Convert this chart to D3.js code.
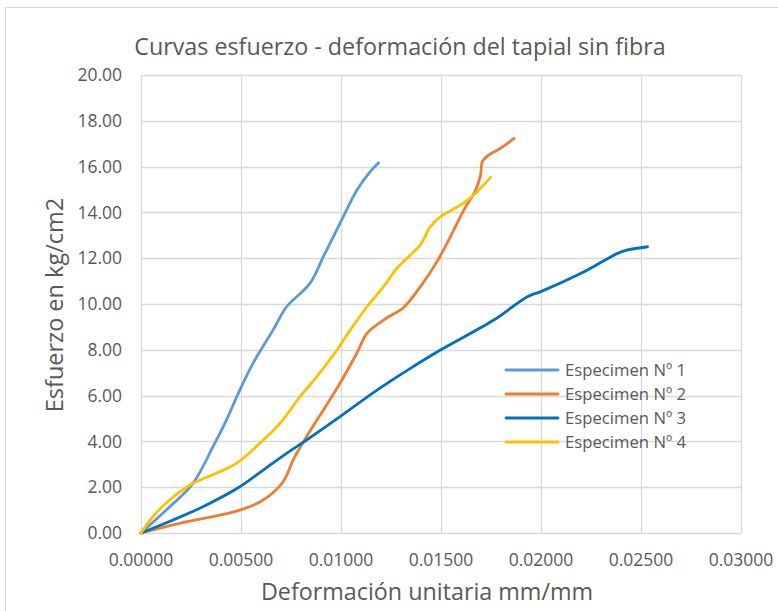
<!DOCTYPE html>
<html lang="es">
<head>
<meta charset="UTF-8">
<title>Curvas esfuerzo - deformación</title>
<script src="https://d3js.org/d3.v7.min.js"></script>
<style>
  body { margin: 0; background: #fff; }
  text { font-family: "Open Sans", sans-serif; fill: #595959; }
</style>
</head>
<body>
<div id="chart"></div>
<script>
// data
const seriesNames = ["Especimen Nº 1", "Especimen Nº 2", "Especimen Nº 3", "Especimen Nº 4"];
const seriesColors = ["#5B9BD5", "#ED7D31", "#0070C0", "#FFC000"];

const spec1X = [0, 0.00126, 0.0026, 0.0036, 0.00427, 0.00494, 0.0056, 0.0066, 0.00728, 0.00845, 0.00912, 0.00995, 0.0108, 0.01146, 0.01188];
const spec1Y = [0, 1.0, 2.17, 3.77, 4.93, 6.24, 7.41, 8.86, 9.88, 10.9, 12.07, 13.52, 14.98, 15.78, 16.17];

const spec2X = [0, 0.00193, 0.00494, 0.00611, 0.00711, 0.00761, 0.00828, 0.00912, 0.00995, 0.01079, 0.0113, 0.01213, 0.01313, 0.01397, 0.0148, 0.01547, 0.01614, 0.01673, 0.01698, 0.01706, 0.01731, 0.01798, 0.01865];
const spec2Y = [0, 0.42, 1.0, 1.44, 2.24, 3.19, 4.21, 5.37, 6.54, 7.85, 8.72, 9.3, 9.85, 10.76, 11.85, 12.94, 14.1, 14.98, 15.63, 16.21, 16.46, 16.8, 17.23];

const spec3X = [0, 0.0016, 0.0031, 0.00494, 0.00611, 0.00728, 0.00828, 0.00995, 0.0118, 0.01347, 0.01497, 0.01764, 0.01932, 0.01999, 0.022, 0.02383, 0.02433, 0.02533];
const spec3Y = [0, 0.57, 1.15, 2.02, 2.75, 3.48, 4.06, 5.08, 6.24, 7.19, 7.99, 9.3, 10.32, 10.54, 11.34, 12.21, 12.36, 12.5];

const spec4X = [0, 0.00059, 0.00143, 0.0026, 0.00377, 0.00477, 0.00594, 0.00695, 0.00795, 0.00879, 0.0098, 0.01046, 0.0113, 0.01213, 0.0128, 0.01347, 0.01397, 0.01447, 0.01497, 0.01597, 0.01664, 0.01748];
const spec4Y = [0, 0.71, 1.44, 2.17, 2.61, 3.04, 3.92, 4.79, 5.95, 6.83, 7.99, 8.86, 9.88, 10.76, 11.56, 12.14, 12.58, 13.38, 13.81, 14.32, 14.76, 15.53];

const xTicks = [0, 0.005, 0.01, 0.015, 0.02, 0.025, 0.03];
const yTicks = [0, 2, 4, 6, 8, 10, 12, 14, 16, 18, 20];

const seriesX = [spec1X, spec2X, spec3X, spec4X];
const seriesY = [spec1Y, spec2Y, spec3Y, spec4Y];

const width = 778, height = 611;
const margin = { top: 75, right: 37, bottom: 78, left: 141 };
const innerW = width - margin.left - margin.right;
const innerH = height - margin.top - margin.bottom;

const svg = d3.select("#chart").append("svg")
  .attr("width", width)
  .attr("height", height);

// outer chart border
svg.append("rect")
  .attr("x", 5.5).attr("y", 7.5)
  .attr("width", width + 10).attr("height", height + 10)
  .attr("fill", "none").attr("stroke", "#D9D9D9");

const x = d3.scaleLinear().domain([0, 0.03]).range([0, innerW]);
const y = d3.scaleLinear().domain([0, 20]).range([innerH, 0]);

const g = svg.append("g").attr("transform", `translate(${margin.left},${margin.top})`);

// grid
g.selectAll(".hgrid").data(yTicks).enter().append("line")
  .attr("x1", 0).attr("x2", innerW)
  .attr("y1", d => Math.round(y(d)) + 0.5).attr("y2", d => Math.round(y(d)) + 0.5)
  .attr("stroke", "#D9D9D9").attr("stroke-width", 1.3);
g.selectAll(".vgrid").data(xTicks).enter().append("line")
  .attr("y1", 0).attr("y2", innerH)
  .attr("x1", d => Math.round(x(d)) + 0.5).attr("x2", d => Math.round(x(d)) + 0.5)
  .attr("stroke", "#D9D9D9").attr("stroke-width", 1.3);

// tick labels
g.selectAll(".ylab").data(yTicks).enter().append("text")
  .attr("x", -19).attr("y", d => y(d))
  .attr("dy", "0.35em")
  .attr("text-anchor", "end")
  .style("font-size", "17.5px")
  .text(d => d.toFixed(2));

g.selectAll(".xlab").data(xTicks).enter().append("text")
  .attr("x", d => x(d)).attr("y", innerH + 33)
  .attr("text-anchor", "middle")
  .style("font-size", "17.5px")
  .text(d => d.toFixed(5));

// lines
const line = d3.line()
  .x(d => x(d[0]))
  .y(d => y(d[1]))
  .curve(d3.curveCatmullRom.alpha(0.5));

seriesNames.forEach((name, i) => {
  const pts = seriesX[i].map((v, k) => [v, seriesY[i][k]]);
  g.append("path")
    .datum(pts)
    .attr("fill", "none")
    .attr("stroke", seriesColors[i])
    .attr("stroke-width", 2.8)
    .attr("stroke-linecap", "round")
    .attr("stroke-linejoin", "round")
    .attr("d", line);
});

// titles
svg.append("text")
  .attr("x", 400).attr("y", 55)
  .attr("text-anchor", "middle")
  .style("font-size", "23.3px")
  .text("Curvas esfuerzo - deformación del tapial sin fibra");

svg.append("text")
  .attr("x", 427).attr("y", 600)
  .attr("text-anchor", "middle")
  .style("font-size", "23.3px")
  .text("Deformación unitaria mm/mm");

svg.append("text")
  .attr("transform", `translate(63,${margin.top + innerH / 2 + 1}) rotate(-90)`)
  .attr("text-anchor", "middle")
  .style("font-size", "23.5px")
  .text("Esfuerzo en kg/cm2");

// legend
const legend = svg.selectAll(".legend").data(seriesNames).enter().append("g")
  .attr("transform", (d, i) => `translate(506,${370 + i * 24})`);
legend.append("line")
  .attr("x1", 0).attr("x2", 52).attr("y1", 0).attr("y2", 0)
  .attr("stroke", (d, i) => seriesColors[i])
  .attr("stroke-width", 2.8)
  .attr("stroke-linecap", "round");
legend.append("text")
  .attr("x", 59).attr("y", 0).attr("dy", "0.35em")
  .style("font-size", "16.7px")
  .text(d => d);
</script>
</body>
</html>
